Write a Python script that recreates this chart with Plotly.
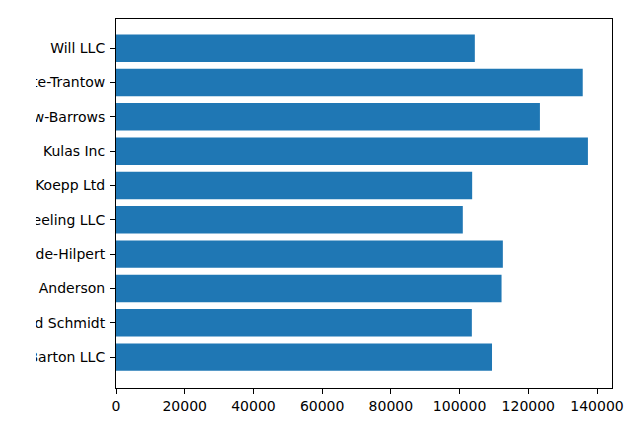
import plotly.graph_objects as go

companies = ['Barton LLC', 'Frami, Hills and Schmidt', 'Fritsch, Russel and Anderson',
             'Jerde-Hilpert', 'Keeling LLC', 'Koepp Ltd', 'Kulas Inc',
             'Trantow-Barrows', 'White-Trantow', 'Will LLC']
revenue = [109438.50, 103569.59, 112214.71, 112591.43, 100934.30,
           103660.54, 137351.96, 123381.38, 135841.99, 104437.60]
x_ticks = [0, 20000, 40000, 60000, 80000, 100000, 120000, 140000]

fig = go.Figure(go.Bar(
    x=revenue, y=list(range(len(companies))), orientation='h',
    width=0.8, marker=dict(color='#1f77b4', line=dict(width=0)),
))

# page body has an 8px margin, so the figure is offset by 8px
fig.update_layout(
    width=632, height=417,
    margin=dict(l=108, r=28, t=11, b=37),
    paper_bgcolor='white', plot_bgcolor='white',
    font=dict(family='DejaVu Sans', size=14, color='black'),
    showlegend=False,
)
# the reference figure is cropped on the left; mask the overflowing label parts
fig.add_shape(type='rect', xref='paper', yref='paper',
              x0=-0.6, x1=-0.1613, y0=-0.3, y1=1.2,
              fillcolor='white', line=dict(width=0), layer='above')
fig.update_xaxes(
    range=[0, 144360], tickvals=x_ticks,
    ticktext=[str(v) for v in x_ticks],
    showgrid=False, zeroline=False, showline=True, linecolor='black', linewidth=1,
    mirror=True, ticks='outside', ticklen=5, tickcolor='black', automargin=False,
)
fig.update_yaxes(
    range=[-0.9, 9.85],
    tickvals=list(range(len(companies))), ticktext=companies,
    showgrid=False, zeroline=False, showline=True, linecolor='black', linewidth=1,
    mirror=True, ticks='outside', ticklen=5, tickcolor='black', automargin=False,
    ticklabelstandoff=2,
)

fig.write_html("out.html")
